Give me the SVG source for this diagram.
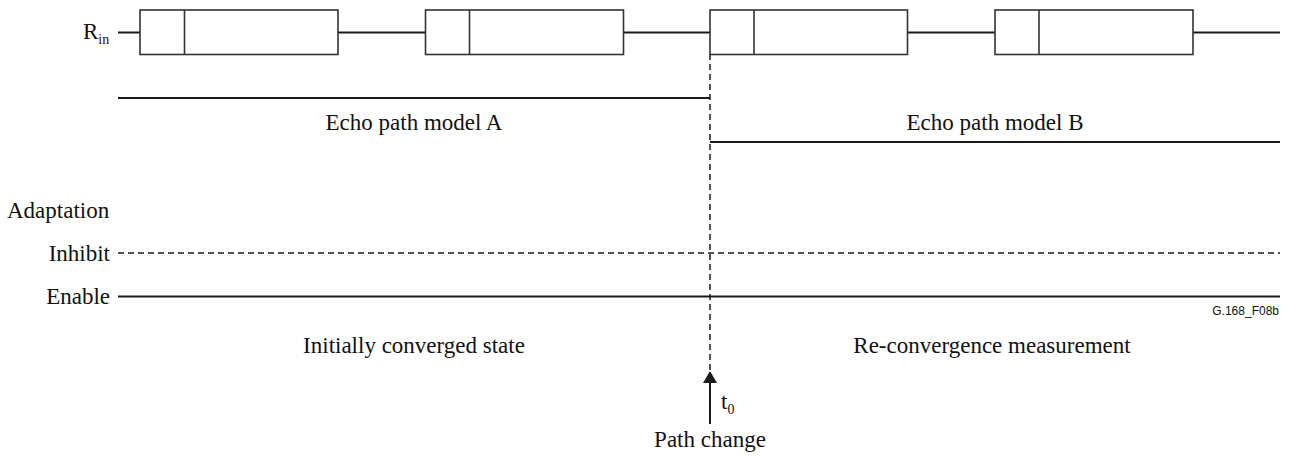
<svg xmlns="http://www.w3.org/2000/svg" width="1291" height="457" viewBox="0 0 1291 457">
<style>
.t{font-family:"Liberation Serif","Times New Roman",serif;font-size:23px;fill:#111}
.s{font-family:"Liberation Serif","Times New Roman",serif;font-size:14px;fill:#111}
.g{font-family:"Liberation Sans",Arial,sans-serif;font-size:12px;fill:#111}
.ln{stroke:#1a1a1a;stroke-width:2;fill:none}
.bx{stroke:#333;stroke-width:1.6;fill:#fff}
.dv{stroke:#333;stroke-width:1.6}
.dash{stroke:#1a1a1a;stroke-width:1.5;stroke-dasharray:6,4;fill:none}
</style>
<rect width="1291" height="457" fill="#fff"/>
<g id="connectors">
<line class="ln" x1="118" y1="32.5" x2="1280" y2="32.5"/>
<line class="ln" x1="118" y1="98" x2="710" y2="98"/>
<line class="ln" x1="710" y1="142" x2="1280" y2="142"/>
<line class="dash" x1="118" y1="253" x2="1280" y2="253"/>
<line class="ln" x1="118" y1="296.5" x2="1280" y2="296.5"/>
<line class="dash" x1="710" y1="54" x2="710" y2="372"/>
<line class="ln" x1="710" y1="380" x2="710" y2="424"/>
<polygon points="710,371 703,383 717,383" fill="#1a1a1a"/>
</g>
<g id="box1"><rect class="bx" x="140" y="10" width="198" height="44.5"/><line class="dv" x1="184.5" y1="10" x2="184.5" y2="54.5"/></g>
<g id="box2"><rect class="bx" x="425.5" y="10" width="198" height="44.5"/><line class="dv" x1="469.5" y1="10" x2="469.5" y2="54.5"/></g>
<g id="box3"><rect class="bx" x="710" y="10" width="197.5" height="44.5"/><line class="dv" x1="754" y1="10" x2="754" y2="54.5"/></g>
<g id="box4"><rect class="bx" x="995" y="10" width="198" height="44.5"/><line class="dv" x1="1039" y1="10" x2="1039" y2="54.5"/></g>
<g id="labels">
<text class="t" x="83" y="39">R<tspan class="s" dy="5">in</tspan></text>
<text class="t" x="414" y="130" text-anchor="middle">Echo path model A</text>
<text class="t" x="995" y="130" text-anchor="middle">Echo path model B</text>
<text class="t" x="7" y="218">Adaptation</text>
<text class="t" x="110" y="261" text-anchor="end">Inhibit</text>
<text class="t" x="110" y="304" text-anchor="end">Enable</text>
<text class="g" x="1279" y="315" text-anchor="end">G.168_F08b</text>
<text class="t" x="414" y="353" text-anchor="middle">Initially converged state</text>
<text class="t" x="992" y="353" text-anchor="middle">Re-convergence measurement</text>
<text class="t" x="721" y="409">t<tspan class="s" dy="5">0</tspan></text>
<text class="t" x="710" y="447" text-anchor="middle">Path change</text>
</g>
</svg>
